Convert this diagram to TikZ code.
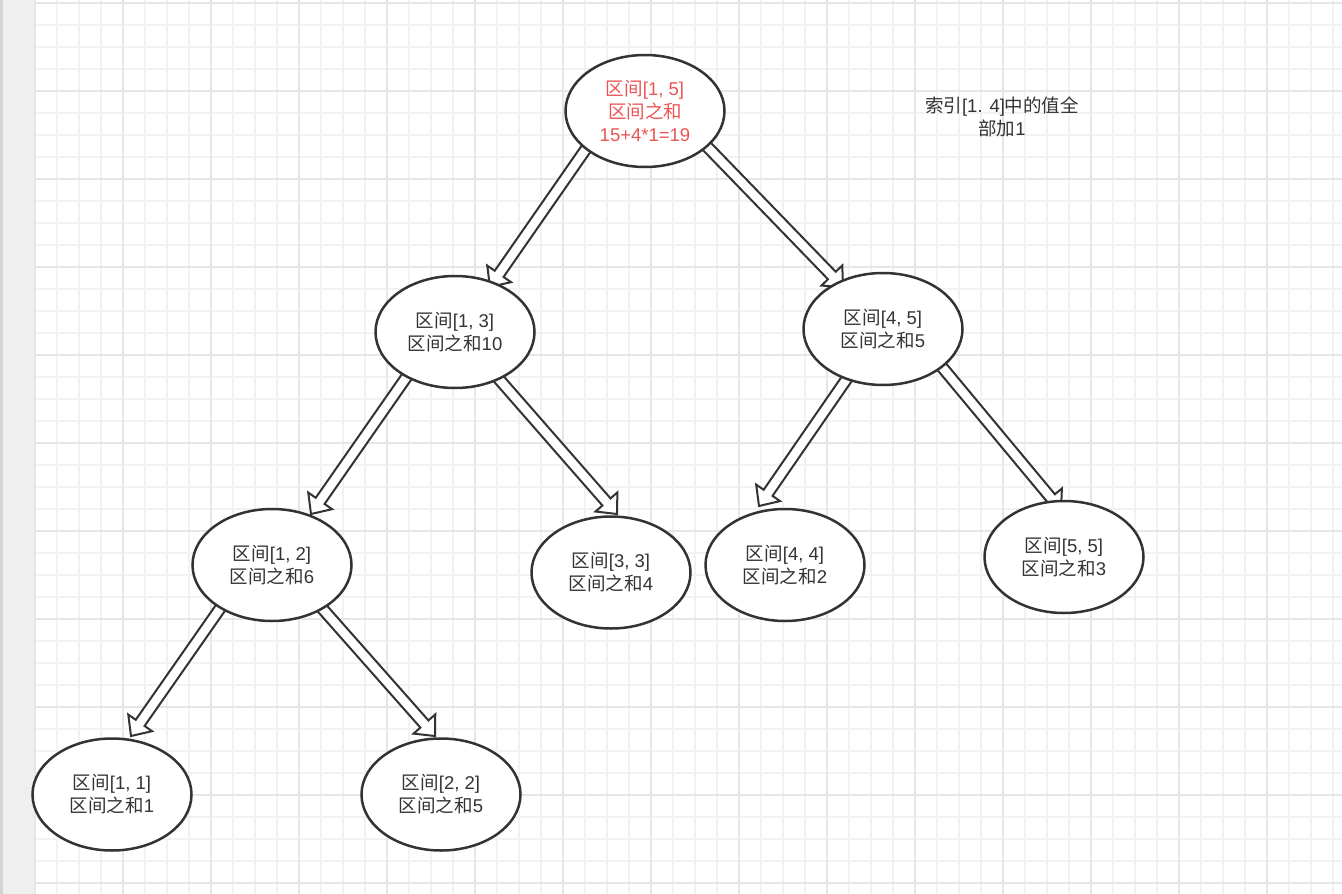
\documentclass[tikz,border=0pt]{standalone}
\usepackage{fontspec}
\setmainfont{Liberation Sans}
\newfontfamily\cjk{Noto Sans CJK SC}
\usetikzlibrary{shapes.geometric,calc}
\definecolor{ink}{HTML}{333333}
\definecolor{redtxt}{HTML}{EC5454}
\definecolor{gminor}{HTML}{F2F2F2}
\definecolor{gmajor}{HTML}{E6E6E6}
\definecolor{strip}{HTML}{EFEFEF}
\definecolor{stripedge}{HTML}{D4D4D8}
\pgfdeclarelayer{gridlayer}
\pgfdeclarelayer{linklayer}
\pgfsetlayers{gridlayer,linklayer,main}
\newcommand{\fatlink}[2]{%
  \coordinate (#2b) at ($(#2)!16pt!(#1)$);
  \draw[linkstyle] ($(#1)!5.4pt!90:(#2)$) -- ($(#2b)!5.4pt!-90:(#1)$)
    -- ($(#2b)!14.5pt!-90:(#1)$) -- (#2) -- ($(#2b)!14.5pt!90:(#1)$)
    -- ($(#2b)!5.4pt!90:(#1)$) -- ($(#1)!5.4pt!-90:(#2)$) -- cycle;
}
\begin{document}
\begin{tikzpicture}[x=1pt,y=-1pt,
  seg/.style={ellipse,draw=ink,line width=2.5pt,fill=white,
    minimum width=159pt,minimum height=112pt,inner sep=0pt,
    align=center,text=ink,font=\fontsize{18.5}{23}\selectfont},
  linkstyle/.style={draw=ink,fill=white,line width=2pt,line join=miter},
  minorline/.style={draw=gminor,line width=1.6pt},
  majorline/.style={draw=gmajor,line width=1.8pt},
  note/.style={align=center,text=ink,inner sep=0pt,font=\fontsize{18.5}{23}\selectfont}]
\useasboundingbox (0,0) rectangle (1342,894);
\begin{pgfonlayer}{gridlayer}
  \fill[white] (0,0) rectangle (1342,894);
  \fill[strip] (0,0) rectangle (35,894);
  \fill[stripedge] (0,0) rectangle (3,894);
  \foreach \i in {0,...,59} {\draw[minorline] ({35+22*\i},0) -- ({35+22*\i},894);}
  \foreach \j in {0,...,40} {\draw[minorline] (35,{3+22*\j}) -- (1342,{3+22*\j});}
  \foreach \i in {0,...,14} {\draw[majorline] ({35+88*\i},0) -- ({35+88*\i},894);}
  \foreach \j in {0,...,10} {\draw[majorline] (35,{3+88*\j}) -- (1342,{3+88*\j});}
\end{pgfonlayer}

\node[seg,text=redtxt] (root) at (645,111) {{\cjk 区间}[1, 5]\\{\cjk 区间之和}\\15+4*1=19};
\node[seg] (n13) at (455,332) {{\cjk 区间}[1, 3]\\{\cjk 区间之和}10};
\node[seg] (n45) at (883,329) {{\cjk 区间}[4, 5]\\{\cjk 区间之和}5};
\node[seg] (n12) at (272,565) {{\cjk 区间}[1, 2]\\{\cjk 区间之和}6};
\node[seg] (n33) at (611,572.5) {{\cjk 区间}[3, 3]\\{\cjk 区间之和}4};
\node[seg] (n44) at (785,565) {{\cjk 区间}[4, 4]\\{\cjk 区间之和}2};
\node[seg] (n55) at (1064,557) {{\cjk 区间}[5, 5]\\{\cjk 区间之和}3};
\node[seg] (n11) at (112,794.5) {{\cjk 区间}[1, 1]\\{\cjk 区间之和}1};
\node[seg] (n22) at (441,794.5) {{\cjk 区间}[2, 2]\\{\cjk 区间之和}5};
\node[note] (memo) at (1002,117) {{\cjk 索引}[1. 4]{\cjk 中的值全}\\{\cjk 部加}1};

\begin{pgfonlayer}{linklayer}
  \coordinate (t1) at ($(n13)+(35,-45)$);
  \coordinate (s1) at ($(root.213.5)!-6pt!(t1)$);
  \fatlink{s1}{t1}
  \coordinate (t2) at ($(n45)+(-40,-42)$);
  \coordinate (s2) at ($(root.330)!-6pt!(t2)$);
  \fatlink{s2}{t2}
  \coordinate (t3) at ($(n12)+(39,-51)$);
  \coordinate (s3) at ($(n13.223.4)!-6pt!(t3)$);
  \fatlink{s3}{t3}
  \coordinate (t4) at ($(n33)+(6,-58.5)$);
  \coordinate (s4) at ($(n13.313.9)!-6pt!(t4)$);
  \fatlink{s4}{t4}
  \coordinate (t5) at ($(n44)+(-26,-59)$);
  \coordinate (s5) at ($(n45.234.6)!-6pt!(t5)$);
  \fatlink{s5}{t5}
  \coordinate (t6) at ($(n55)+(-3,-47)$);
  \coordinate (s6) at ($(n45.327.4)!-6pt!(t6)$);
  \fatlink{s6}{t6}
  \coordinate (t7) at ($(n11)+(19,-58.5)$);
  \coordinate (s7) at ($(n12.220.9)!-6pt!(t7)$);
  \fatlink{s7}{t7}
  \coordinate (t8) at ($(n22)+(-6,-58.5)$);
  \coordinate (s8) at ($(n12.319.9)!-6pt!(t8)$);
  \fatlink{s8}{t8}
\end{pgfonlayer}
\end{tikzpicture}
\end{document}
